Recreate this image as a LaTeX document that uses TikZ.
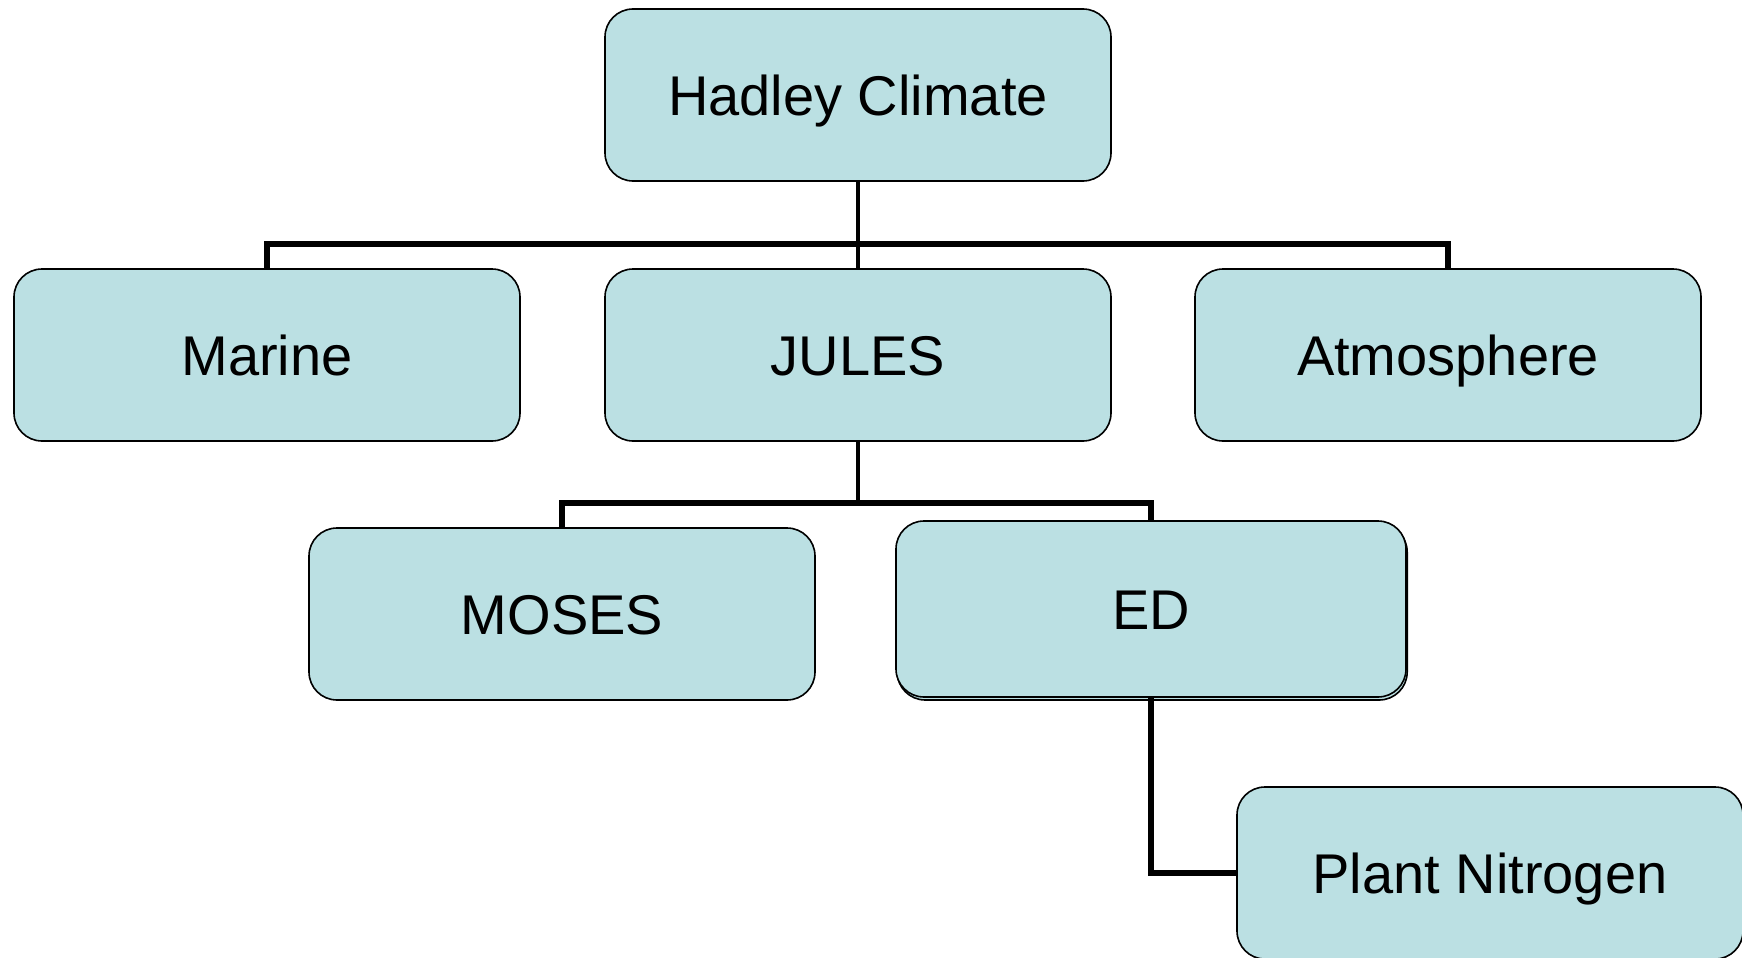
\documentclass[tikz,border=0pt]{standalone}
\usepackage{fontspec}
\setmainfont{Liberation Sans}
\usepackage{tikz}
\usetikzlibrary{positioning,shadows}
\definecolor{boxfill}{RGB}{187,224,227}

\begin{document}
\begin{tikzpicture}[x=0.5pt,y=-0.5pt,
  unitbox/.style={draw=black,line width=0.8pt,fill=boxfill,rounded corners=14pt,
    minimum width=253pt,minimum height=86pt,inner sep=0pt,
    text height=20pt,text depth=0pt,
    font=\fontsize{28}{33}\selectfont},
  link/.style={draw=black,line width=2.9pt},
  stem/.style={draw=black,line width=1.9pt}]
\useasboundingbox (0,0) rectangle (1742,958);
% boxes
\node[unitbox] (hadley) at (858,95) {Hadley Climate};
\node[unitbox] (marine) at (267,355) {Marine};
\node[unitbox] (jules) at (858,355) {JULES};
\node[unitbox] (atmos) at (1448,355) {Atmosphere};
\node[unitbox] (moses) at (562,614) {MOSES};
\node[unitbox,minimum width=255pt,minimum height=88pt,
  copy shadow={shadow xshift=0.6pt,shadow yshift=-1.5pt}] (ed) at (1151,609) {ED};
\node[unitbox] (plant) at (1490,873) {Plant Nitrogen};
% connectors
\coordinate (hbar) at (858,244);
\coordinate (jbar) at (858,503);
\draw[link] (marine.north) |- (hbar) -| (atmos.north);
\draw[stem] (hadley.south) -- (jules.north);
\draw[link] (moses.north) |- (jbar) -| (ed.north);
\draw[stem] (jules.south) -- (jbar);
\draw[link] (ed.south) |- (plant.west);
\end{tikzpicture}
\end{document}
